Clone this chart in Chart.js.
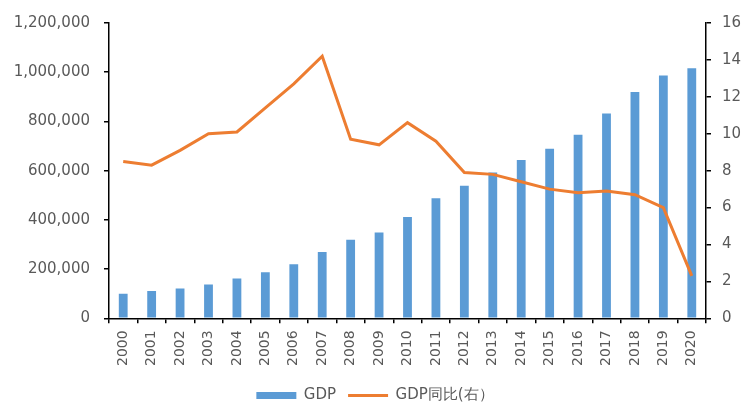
<!DOCTYPE html>
<html>
<head>
<meta charset="utf-8">
<script src="https://cdn.jsdelivr.net/npm/chart.js@4/dist/chart.umd.min.js"></script>
<style>
  html, body { margin: 0; padding: 0; background: #fff; }
  #wrap { width: 750px; height: 404px; }
</style>
</head>
<body>
<div id="wrap"><canvas id="myChart"></canvas></div>
<script>
const years = [
  "2000", "2001", "2002", "2003", "2004", "2005", "2006",
  "2007", "2008", "2009", "2010", "2011", "2012", "2013",
  "2014", "2015", "2016", "2017", "2018", "2019", "2020"
];

// GDP (亿元)
const gdp = [
  100280, 110863, 121717, 137422, 161840, 187319, 219439,
  270092, 319245, 348518, 412119, 487940, 538580, 592963,
  643563, 688858, 746395, 832036, 919281, 986515, 1015986
];

// GDP同比 (%)
const gdpYoy = [
  8.5, 8.3, 9.1, 10.0, 10.1, 11.4, 12.7,
  14.2, 9.7, 9.4, 10.6, 9.6, 7.9, 7.8,
  7.4, 7.0, 6.8, 6.9, 6.7, 6.0, 2.3
];

const leftMax = 1200000;
const leftStep = 200000;
const rightMax = 16;
const rightStep = 2;

const blue = "#5B9BD5";
const orange = "#ED7D31";
const textColor = "#595959";
const fontFamily = "'DejaVu Sans', sans-serif";

const axisGrid = {
  display: true,
  drawOnChartArea: false,
  drawTicks: true,
  tickLength: 5,
  color: "#000",
  lineWidth: 1.5
};
const axisBorder = { display: true, color: "#000", width: 1.5 };

const data = {
  labels: years,
  datasets: [
    {
      type: "line",
      label: "GDP同比(右）",
      data: gdpYoy,
      yAxisID: "y1",
      borderColor: orange,
      backgroundColor: orange,
      borderWidth: 3,
      pointRadius: 0,
      tension: 0,
      order: 0
    },
    {
      type: "bar",
      label: "GDP",
      data: gdp,
      yAxisID: "y",
      backgroundColor: blue,
      borderWidth: 0,
      barPercentage: 0.62,
      categoryPercentage: 0.5,
      order: 1
    }
  ]
};

const config = {
  data,
  options: {
    responsive: true,
    maintainAspectRatio: false,
    animation: false,
    layout: { padding: { top: 12, left: 0, right: 0, bottom: -9 } },
    plugins: {
      tooltip: { enabled: false },
      legend: {
        position: "bottom",
        reverse: true,
        labels: {
          color: textColor,
          font: { family: fontFamily, size: 15 },
          usePointStyle: true,
          pointStyleWidth: 40,
          boxWidth: 40,
          boxHeight: 7,
          padding: 12,
          generateLabels: function (chart) {
            const items = Chart.defaults.plugins.legend.labels.generateLabels(chart);
            items.forEach(function (it) {
              if (it.datasetIndex === 1) {
                it.pointStyle = "rect";
                it.fillStyle = blue;
                it.strokeStyle = blue;
                it.lineWidth = 0;
              } else {
                it.pointStyle = "line";
                it.strokeStyle = orange;
                it.lineWidth = 3;
              }
            });
            return items;
          }
        }
      }
    },
    scales: {
      x: {
        offset: true,
        grid: Object.assign({}, axisGrid, { offset: true }),
        border: axisBorder,
        afterFit: function (scale) { scale.height += 3; },
        ticks: {
          color: textColor,
          font: { family: fontFamily, size: 14 },
          minRotation: 90,
          maxRotation: 90,
          autoSkip: false,
          padding: 7
        }
      },
      y: {
        position: "left",
        min: 0,
        max: leftMax,
        grid: axisGrid,
        border: axisBorder,
        afterFit: function (scale) { scale.width = 109; },
        ticks: {
          stepSize: leftStep,
          color: textColor,
          font: { family: fontFamily, size: 15 },
          padding: 14,
          callback: function (v) { return v.toLocaleString("en-US"); }
        }
      },
      y1: {
        position: "right",
        min: 0,
        max: rightMax,
        grid: axisGrid,
        border: axisBorder,
        afterFit: function (scale) { scale.width = 44; },
        ticks: {
          stepSize: rightStep,
          color: textColor,
          font: { family: fontFamily, size: 15 },
          padding: 11
        }
      }
    }
  }
};

new Chart(document.getElementById("myChart"), config);
</script>
</body>
</html>
